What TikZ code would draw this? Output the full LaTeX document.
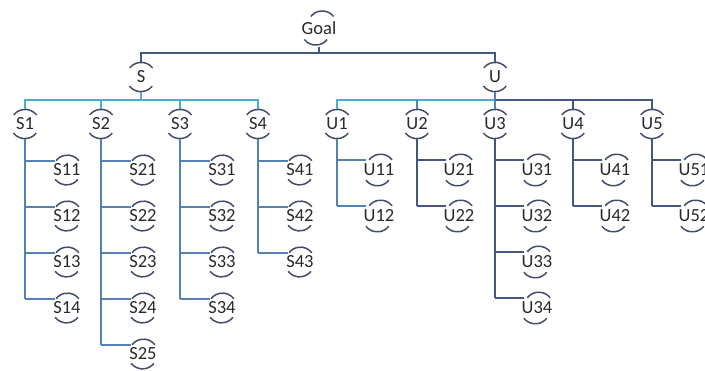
\documentclass[tikz,border=0pt]{standalone}
\usepackage{fontspec}
\setmainfont{Carlito}
\definecolor{cyanline}{RGB}{78,172,206}
\definecolor{darkline}{RGB}{68,86,130}
\definecolor{midline}{RGB}{84,128,178}
\definecolor{arccol}{RGB}{66,76,104}
\definecolor{txt}{RGB}{40,40,45}
\tikzset{
  bnode/.style={circle, minimum size=29pt, inner sep=0pt, text=txt,
    font=\fontsize{18.5}{20}\selectfont,
    append after command={
      (\tikzlastnode.38) edge[arcpath, to path={arc[start angle=38,end angle=142,radius=14.5pt]}] (\tikzlastnode.142)
      (\tikzlastnode.218) edge[arcpath, to path={arc[start angle=218,end angle=322,radius=14.5pt]}] (\tikzlastnode.322)}},
  arcpath/.style={draw=arccol, line width=1.5pt},
  conn/.style={line width=1.8pt},
}
\begin{document}
\begin{tikzpicture}[x=1pt,y=1pt]
\useasboundingbox (0,-370) rectangle (705,0);
\clip (0,-370) rectangle (705,0);
% top
\node[bnode] (Goal) at (319,-28) {Goal};
\node[bnode] (S) at (141,-77) {S};
\node[bnode] (U) at (495,-77) {U};
\coordinate (gbar) at (319,-53);
\draw[conn,darkline] (Goal.south) -- (gbar);
\draw[conn,darkline] (S.north) |- (gbar) -| (U.north);
% level nodes
\foreach \n/\x in {S1/25,S2/101,S3/180,S4/258,U1/337,U2/417,U3/495,U4/573,U5/652}
  \node[bnode] (\n) at (\x,-124) {\n};
\coordinate (sbar) at (141,-100);
\coordinate (ubar) at (495,-100);
\draw[conn,cyanline] (S.south) -- (sbar);
\draw[conn,cyanline] (S1.north) |- (sbar) -| (S4.north);
\draw[conn,cyanline] (S2.north) -- (S2.north |- sbar);
\draw[conn,cyanline] (S3.north) -- (S3.north |- sbar);
\draw[conn,midline] (U.south) -- (ubar);
\draw[conn,cyanline] (U1.north) |- (ubar);
\draw[conn,darkline] (ubar) -| (U5.north);
\draw[conn,midline] (U2.north) -- (U2.north |- ubar);
\draw[conn,midline] (U3.north) -- (ubar);
\draw[conn,darkline] (U4.north) -- (U4.north |- ubar);
% leaves
\foreach \p/\x/\k/\col in {S1/25/4/midline,S2/101/5/midline,S3/180/4/midline,S4/258/3/midline,U1/337/2/midline,U2/417/2/darkline,U3/495/4/darkline,U4/573/2/darkline,U5/652/2/darkline}{
  \foreach \i in {1,...,\k}{
    \node[bnode] (\p\i) at ({\x+42},{-124-46*\i}) {\p\i};
    \draw[conn,\col] (\p.south |- \p\i.142) -- (\p\i.142);
  }
  \draw[conn,\col] (\p.south) -- (\p.south |- \p\k.142);
}
\end{tikzpicture}
\end{document}
